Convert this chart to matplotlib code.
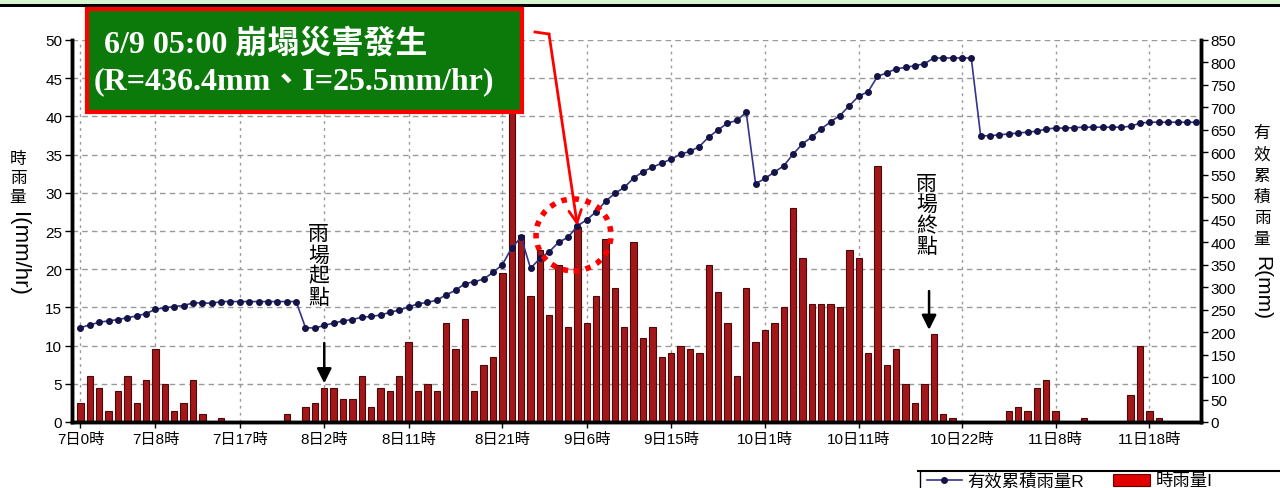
import numpy as np
import matplotlib
matplotlib.use("Agg")
import matplotlib.pyplot as plt
from matplotlib.patches import Rectangle, Ellipse
from matplotlib.lines import Line2D

plt.rcParams['font.family'] = ['Liberation Sans', 'Noto Sans CJK TC', 'DejaVu Sans']

W, H = 1280, 489

# hourly rainfall I (mm/hr), one value per hour from 7日0時
rain_hourly = [
    2.5, 6, 4.5, 1.5, 4, 6, 2.5, 5.5, 9.5, 5,
    1.5, 2.5, 5.5, 1, 0, 0.5, 0, 0, 0, 0,
    0, 0, 1, 0, 2, 2.5, 4.5, 4.5, 3, 3,
    6, 2, 4.5, 4, 6, 10.5, 4, 5, 4, 13,
    9.5, 13.5, 4, 7.5, 8.5, 19.5, 44, 24.5, 16.5, 22.5,
    14, 20.5, 12.5, 25.5, 13, 16.5, 24, 17.5, 12.5, 23.5,
    11, 12.5, 8.5, 9, 10, 9.5, 9, 20.5, 17, 13,
    6, 17.5, 10.5, 12, 13, 15, 28, 21.5, 15.5, 15.5,
    15.5, 15, 22.5, 21.5, 9, 33.5, 7.5, 9.5, 5, 2.5,
    5, 11.5, 1, 0.5, 0, 0, 0, 0, 0, 1.5,
    2, 1.5, 4.5, 5.5, 1.5, 0, 0, 0.5, 0, 0,
    0, 0, 3.5, 10, 1.5, 0.5, 0, 0, 0, 0,
]

# effective accumulated rainfall R (mm)
rain_effective = [
    210, 216, 222, 225, 228, 232, 236, 241, 251, 254,
    257, 259, 265, 265, 264, 268, 268, 268, 268, 268,
    268, 268, 268, 268, 210, 209, 215, 220, 225, 228,
    233, 235, 238, 244, 249, 256, 263, 266, 271, 283,
    293, 308, 312, 318, 333, 350, 388, 411, 342, 364,
    379, 400, 411, 436.4, 450, 468, 491, 509, 522, 543,
    557, 567, 576, 585, 596, 602, 613, 634, 650, 665,
    671, 689, 530, 542, 556, 570, 596, 619, 634, 652,
    668, 682, 704, 725, 735, 769, 777, 786, 789, 793,
    797, 810, 810, 810, 810, 810, 637, 637, 639, 641,
    643, 645, 647, 652, 654, 654, 655, 656, 656, 656,
    656, 656, 658, 665, 667, 667, 667, 667, 667, 667,
]

tick_hours = [0, 8, 17, 26, 35, 45, 54, 63, 73, 83, 94, 104, 114]
tick_labels = ['7日0時', '7日8時', '7日17時', '8日2時', '8日11時', '8日21時',
               '9日6時', '9日15時', '10日1時', '10日11時', '10日22時',
               '11日8時', '11日18時']

hours = np.arange(len(rain_hourly))


def px(x, y):
    # image pixel (from top-left) -> figure fraction
    return x / W, 1 - y / H


fig = plt.figure(figsize=(W / 100, H / 100), dpi=100)
fig.patch.set_facecolor('white')
ax = fig.add_axes([72 / W, 1 - 423 / H, (1201 - 72) / W, (423 - 41) / H])
ax2 = ax.twinx()

# bars
ax.bar(hours, rain_hourly, width=0.68, color='#a3171a', edgecolor='#4a0a0a',
       linewidth=0.8, zorder=2)
ax.set_xlim(-0.9, 119.5)
ax.set_ylim(0, 50)
ax.set_yticks(np.arange(0, 51, 5))
ax.set_xticks(tick_hours)
ax.set_xticklabels(tick_labels, fontsize=11)
ax.set_axisbelow(True)
ax.yaxis.grid(True, color='#9a9a9a', linestyle=(0, (4, 3)), linewidth=1)
ax.xaxis.grid(True, color='#9a9a9a', linestyle=(0, (2, 3)), linewidth=1)
ax.tick_params(axis='y', labelsize=11, length=5, width=1, pad=2)
ax.tick_params(axis='x', length=4, width=1, pad=3)

# accumulated line
ax2.plot(hours, rain_effective, color='#34348a', linewidth=1.2,
         marker='o', markersize=4, markerfacecolor='#141447',
         markeredgecolor='#141447', zorder=3)
ax2.set_ylim(0, 850)
ax2.set_yticks(np.arange(0, 851, 50))
ax2.tick_params(axis='y', labelsize=11, length=5, width=1, pad=2)

for a in (ax, ax2):
    a.spines['top'].set_visible(False)
    a.spines['left'].set_linewidth(2.5)
    a.spines['right'].set_linewidth(2.5)
    a.spines['bottom'].set_linewidth(2.5)

# axis labels (upright CJK, rotated Latin)
fig.text(*px(18, 152), '時\n雨\n量', fontsize=12, ha='center', va='top', linespacing=1.35)
fig.text(*px(18, 212), 'I(mm/hr)', fontsize=16, ha='center', va='top', rotation=-90)
fig.text(*px(1262, 126), '有\n效\n累\n積\n雨\n量', fontsize=12, ha='center', va='top',
         linespacing=1.5)
fig.text(*px(1262, 256), 'R(mm)', fontsize=15, ha='center', va='top', rotation=-90)

# rain event start / end
ax.text(26 - 0.6, 25.9, '雨\n場\n起\n點', fontsize=15, ha='center', va='top', linespacing=1.12)
ax.annotate('', xy=(26, 4.7), xytext=(26, 10.7),
            arrowprops=dict(arrowstyle='-|>', color='black', lw=1.8,
                            mutation_scale=22))
ax.text(90.2, 32.5, '雨\n場\n終\n點', fontsize=15, ha='center', va='top', linespacing=1.12)
ax.annotate('', xy=(90.5, 11.7), xytext=(90.5, 17.5),
            arrowprops=dict(arrowstyle='-|>', color='black', lw=1.8,
                            mutation_scale=22))

# disaster marker: dotted circle and arrow
fig.patches.append(Ellipse(px(573.5, 236), 75 / W, 72 / H, transform=fig.transFigure,
                           fill=False, edgecolor='#ff0000', linewidth=4,
                           linestyle=(0, (1, 1.2)), zorder=5))
fig.lines.append(Line2D([535 / W, 549 / W], [1 - 33 / H, 1 - 35 / H],
                        transform=fig.transFigure, color='#ff0000', linewidth=2))
ax2.annotate('', xy=(53, 436.4), xycoords='data',
             xytext=(549, H - 35), textcoords='figure pixels',
             arrowprops=dict(arrowstyle='->,head_length=0.9,head_width=0.45',
                             color='#ff0000', lw=2, shrinkA=0, shrinkB=0))

# annotation box
fig.patches.append(Rectangle(px(87, 113), 435 / W, 103 / H, transform=fig.transFigure,
                             facecolor='#0b7a0b', edgecolor='#ff0000', linewidth=3,
                             zorder=6))
fig.text(*px(104, 44), '6/9 05:00 崩塌災害發生', color='white', fontsize=23,
         fontweight='bold', family=['Liberation Serif', 'Noto Sans CJK TC'],
         ha='left', va='center', zorder=7)
fig.text(*px(94, 82), '(R=436.4mm、I=25.5mm/hr)', color='white', fontsize=23,
         fontweight='bold', family=['Liberation Serif', 'Noto Sans CJK TC'],
         ha='left', va='center', zorder=7)

# top band
fig.patches.append(Rectangle(px(0, 5), 1, 5 / H, transform=fig.transFigure,
                             facecolor='#d6f5d0', edgecolor='none'))
fig.patches.append(Rectangle(px(0, 8), 1, 3 / H, transform=fig.transFigure,
                             facecolor='black', edgecolor='none'))

# legend at bottom right
fig.lines.append(Line2D([918 / W, 1], [1 - 472 / H] * 2, transform=fig.transFigure,
                        color='black', linewidth=1.5))
fig.lines.append(Line2D([920 / W] * 2, [1 - 472 / H, 0], transform=fig.transFigure,
                        color='black', linewidth=1))
fig.lines.append(Line2D([927 / W, 962 / W], [1 - 481 / H] * 2, transform=fig.transFigure,
                        color='#34348a', linewidth=1.2))
fig.lines.append(Line2D([944 / W], [1 - 481 / H], transform=fig.transFigure,
                        color='#141447', marker='o', markersize=4))
fig.text(*px(967, 481), '有效累積雨量R', fontsize=12.5, ha='left', va='center')
fig.patches.append(Rectangle(px(1113, 487), 37 / W, 12 / H, transform=fig.transFigure,
                             facecolor='#e00000', edgecolor='#6a0000', linewidth=0.8))
fig.text(*px(1156, 481), '時雨量I', fontsize=12.5, ha='left', va='center')

fig.savefig('out.png', dpi=100)
